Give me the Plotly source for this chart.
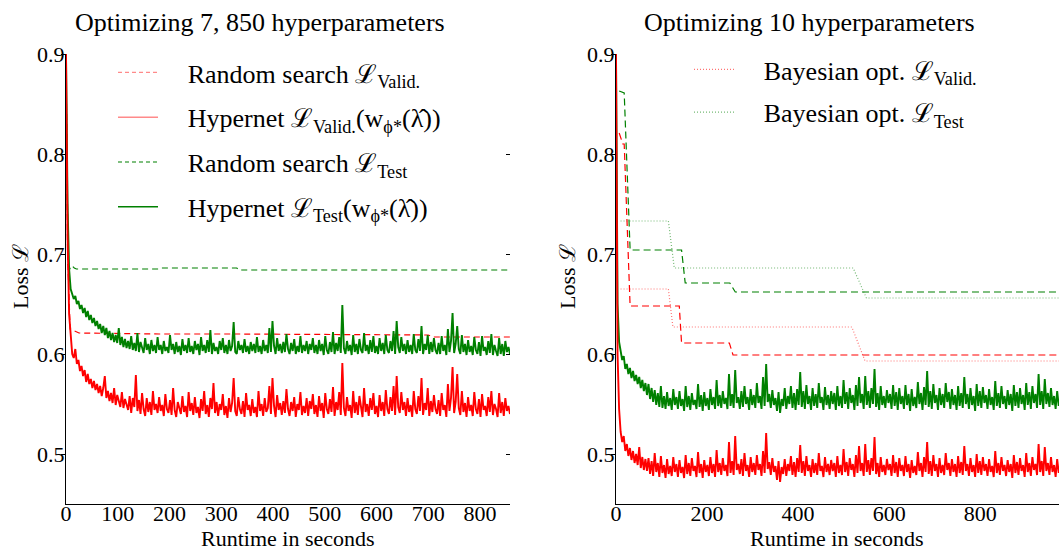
import plotly.graph_objects as go

# ---------------- data (losses in thousandths) ----------------
left_step = 3.0     # seconds between Hypernet samples (left panel)
right_step = 3.4    # seconds between Hypernet samples (right panel)

hyper_valid_left_milli = [
    900, 720, 640, 615, 600, 596, 605, 590, 594, 583, 588, 578, 584, 572, 580, 570, 575, 566, 573, 564,
    570, 561, 568, 558, 566, 578, 556, 563, 553, 561, 551, 566, 549, 559, 552, 547, 562, 546, 555, 549,
    544, 558, 541, 556, 547, 579, 543, 554, 540, 561, 545, 538, 556, 542, 552, 539, 563, 544, 550, 541,
    557, 543, 549, 538, 560, 545, 541, 554, 539, 566, 544, 537, 552, 546, 540, 558, 542, 548, 537, 562,
    543, 551, 539, 557, 541, 547, 536, 555, 543, 563, 540, 549, 537, 556, 545, 571, 541, 552, 538, 550,
    544, 560, 539, 548, 536, 556, 542, 551, 576, 543, 538, 557, 545, 540, 553, 537, 561, 544, 549, 538,
    555, 541, 547, 537, 563, 543, 550, 538, 556, 542, 546, 568, 540, 576, 548, 537, 559, 544, 551, 539,
    553, 541, 565, 545, 538, 552, 543, 557, 537, 550, 544, 562, 539, 548, 541, 556, 538, 553, 545, 560,
    540, 549, 537, 558, 543, 551, 536, 561, 545, 540, 555, 542, 567, 538, 552, 544, 562, 539, 591, 546,
    538, 557, 543, 549, 536, 563, 541, 552, 539, 558, 545, 537, 566, 542, 550, 538, 556, 544, 561, 540,
    548, 537, 559, 543, 552, 538, 564, 545, 540, 557, 543, 568, 539, 578, 547, 541, 562, 544, 552, 538,
    556, 542, 549, 537, 563, 545, 540, 558, 543, 576, 539, 551, 544, 566, 538, 553, 542, 559, 545, 540,
    554, 538, 561, 544, 549, 537, 570, 543, 556, 587, 541, 552, 580, 546, 539, 563, 542, 551, 537, 557,
    543, 549, 538, 562, 545, 540, 555, 537, 560, 544, 548, 538, 557, 542, 563, 539, 550, 545, 537, 561,
    541, 552, 538, 556, 543, 548, 540,
]
hyper_test_left_milli = [
    900, 750, 685, 665, 660, 655, 658, 650, 653, 645, 649, 641, 646, 637, 643, 634, 639, 631, 636, 628,
    633, 625, 630, 621, 628, 619, 626, 616, 623, 614, 621, 612, 619, 611, 626, 609, 617, 607, 615, 606,
    613, 605, 618, 604, 611, 603, 621, 602, 612, 607, 601, 616, 604, 610, 600, 614, 603, 609, 601, 617,
    604, 609, 600, 613, 603, 607, 601, 619, 604, 610, 600, 612, 602, 608, 599, 615, 603, 609, 601, 616,
    602, 608, 600, 613, 604, 610, 599, 617, 603, 609, 601, 614, 602, 624, 600, 611, 603, 607, 600, 613,
    604, 616, 601, 609, 600, 614, 603, 608, 632, 602, 600, 613, 604, 609, 601, 615, 602, 608, 600, 612,
    603, 610, 601, 617, 602, 608, 600, 614, 603, 609, 601, 626, 602, 633, 608, 600, 616, 603, 610, 601,
    612, 602, 620, 605, 600, 611, 603, 615, 600, 608, 602, 618, 601, 609, 603, 613, 600, 610, 604, 616,
    601, 609, 600, 614, 603, 610, 599, 618, 604, 600, 612, 602, 622, 600, 611, 603, 617, 601, 649, 606,
    600, 613, 603, 609, 599, 619, 602, 610, 600, 615, 604, 601, 621, 603, 609, 600, 614, 602, 618, 601,
    608, 600, 616, 603, 611, 600, 619, 604, 601, 613, 603, 623, 600, 633, 607, 601, 617, 603, 610, 600,
    614, 602, 609, 600, 620, 604, 601, 615, 603, 628, 600, 610, 604, 619, 600, 612, 602, 616, 604, 600,
    611, 600, 618, 603, 609, 599, 625, 602, 613, 641, 601, 610, 628, 605, 600, 619, 602, 610, 599, 614,
    602, 608, 599, 617, 604, 600, 612, 598, 618, 603, 607, 599, 613, 601, 620, 599, 609, 603, 598, 616,
    600, 610, 598, 613, 602, 607, 600,
]
hyper_valid_right_milli = [
    900, 600, 545, 522, 512, 518, 503, 510, 498, 506, 494, 503, 491, 500, 489, 507, 486, 497, 484, 495,
    483, 496, 480, 493, 478, 501, 482, 491, 477, 498, 481, 489, 476, 495, 480, 488, 478, 497, 482, 490,
    477, 494, 481, 487, 476, 499, 480, 491, 478, 496, 483, 488, 477, 502, 481, 490, 476, 494, 482, 489,
    478, 497, 481, 490, 477, 504, 482, 491, 479, 496, 483, 489, 478, 512, 481, 493, 479, 518, 484, 490,
    480, 495, 478, 501, 483, 489, 477, 497, 482, 491, 479, 499, 484, 490, 478, 503, 481, 521, 485, 492,
    479, 496, 482, 488, 474, 493, 472, 487, 480, 495, 478, 490, 483, 498, 479, 492, 477, 496, 482, 509,
    481, 493, 478, 498, 483, 489, 477, 495, 481, 491, 479, 501, 483, 488, 477, 497, 482, 490, 479, 494,
    483, 491, 477, 498, 481, 489, 479, 505, 482, 492, 478, 496, 484, 490, 477, 499, 481, 508, 483, 491,
    478, 510, 482, 494, 479, 496, 483, 517, 480, 491, 477, 497, 482, 489, 479, 495, 484, 490, 478, 499,
    481, 492, 477, 496, 483, 489, 478, 498, 482, 490, 476, 494, 481, 488, 479, 502, 483, 491, 477, 497,
    482, 512, 480, 493, 478, 499, 483, 490, 477, 496, 481, 489, 479, 501, 484, 491, 478, 495, 482, 490,
    477, 498, 481, 492, 479, 508, 483, 490, 478, 496, 482, 489, 477, 500, 481, 493, 479, 497, 483, 490,
    478, 495, 482, 488, 477, 503, 481, 491, 479, 497, 483, 489, 478, 494, 482, 490, 476, 499, 481, 492,
    479, 496, 483, 489, 477, 501, 482, 491, 478, 497, 484, 490, 479, 510, 482, 493, 478, 507, 483, 491,
    479, 497, 482, 489, 477, 495, 481,
]
hyper_test_right_milli = [
    900, 650, 612, 601, 594, 598, 585, 590, 580, 586, 576, 583, 573, 579, 570, 577, 566, 574, 563, 571,
    559, 570, 555, 566, 552, 564, 549, 561, 547, 568, 546, 558, 545, 562, 548, 556, 544, 565, 549, 557,
    545, 563, 548, 555, 543, 568, 547, 558, 544, 561, 549, 554, 545, 570, 547, 559, 543, 562, 548, 556,
    544, 565, 549, 557, 545, 574, 548, 559, 546, 563, 550, 556, 545, 580, 548, 560, 546, 584, 551, 557,
    545, 563, 547, 568, 550, 557, 544, 565, 549, 559, 546, 571, 551, 558, 545, 577, 548, 590, 552, 560,
    546, 564, 549, 556, 543, 562, 541, 555, 548, 566, 545, 558, 550, 568, 546, 561, 544, 565, 549, 582,
    547, 563, 545, 569, 550, 558, 544, 566, 548, 560, 546, 571, 551, 557, 544, 567, 549, 559, 545, 563,
    550, 561, 544, 568, 548, 558, 546, 574, 550, 562, 545, 566, 551, 559, 544, 569, 548, 577, 551, 560,
    545, 578, 549, 563, 546, 566, 550, 585, 547, 561, 544, 568, 549, 558, 546, 564, 551, 560, 545, 569,
    548, 562, 544, 566, 550, 558, 545, 569, 549, 560, 543, 565, 548, 557, 546, 572, 550, 561, 544, 567,
    549, 583, 547, 563, 545, 570, 551, 559, 544, 566, 549, 560, 546, 571, 552, 562, 545, 565, 549, 559,
    544, 568, 548, 561, 546, 577, 550, 560, 545, 566, 549, 558, 543, 570, 548, 563, 546, 567, 551, 559,
    545, 565, 549, 557, 544, 573, 548, 561, 546, 568, 550, 558, 545, 564, 549, 560, 543, 569, 548, 562,
    546, 566, 550, 559, 544, 571, 549, 562, 545, 568, 551, 560, 546, 580, 549, 563, 545, 575, 550, 561,
    547, 566, 549, 558, 545, 563, 548,
]

# Random search (left) - incumbent curves
rs_valid_left_t = [0, 3, 8, 25, 180, 330, 700, 710, 858]
rs_valid_left = [0.900, 0.700, 0.625, 0.621, 0.620, 0.620, 0.619, 0.617, 0.617]
rs_test_left_t = [0, 4, 8, 12, 16, 20, 180, 185, 330, 335, 858]
rs_test_left = [0.900, 0.690, 0.685, 0.688, 0.686, 0.685, 0.685, 0.686, 0.686, 0.684, 0.684]

# Random search (right)
rs_valid_right_t = [7, 15, 18, 31, 139, 144, 249, 257, 973]
rs_valid_right = [0.821, 0.810, 0.810, 0.648, 0.648, 0.611, 0.611, 0.599, 0.599]
rs_test_right_t = [7, 18, 31, 144, 152, 250, 262, 973]
rs_test_right = [0.863, 0.861, 0.704, 0.704, 0.671, 0.671, 0.662, 0.662]

# Bayesian optimisation (right)
bo_valid_t = [10, 115, 125, 518, 547, 973]
bo_valid = [0.665, 0.665, 0.627, 0.627, 0.593, 0.593]
bo_test_t = [10, 115, 128, 521, 550, 973]
bo_test = [0.733, 0.733, 0.686, 0.686, 0.656, 0.656]

x_ticks_left = [0, 100, 200, 300, 400, 500, 600, 700, 800]
x_ticks_right = [0, 200, 400, 600, 800]
y_ticks = [0.5, 0.6, 0.7, 0.8, 0.9]

titles = ["Optimizing 7, 850 hyperparameters", "Optimizing 10 hyperparameters"]
x_title = "Runtime in seconds"
y_title = "Loss ℒ"

# ---------------- figure ----------------
W, H = 1059, 550
FONT = "Liberation Serif, serif"
RED, GREEN = "#ff0000", "#008000"
RED_L, GREEN_L = "rgba(255,0,0,0.55)", "rgba(0,128,0,0.55)"
PAD = "\u00a0\u00a0\u00a0\u2009"


def series(milli, step):
    return [i * step for i in range(len(milli))], [v / 1000.0 for v in milli]


fig = go.Figure()

# ----- left panel -----
fig.add_trace(go.Scatter(x=rs_valid_left_t, y=rs_valid_left, mode="lines", showlegend=False,
                         line=dict(color=RED, width=1.2, dash="6px,4px"), xaxis="x", yaxis="y"))
fig.add_trace(go.Scatter(x=rs_test_left_t, y=rs_test_left, mode="lines", showlegend=False,
                         line=dict(color=GREEN, width=1.2, dash="6px,4px"), xaxis="x", yaxis="y"))
tx, vy = series(hyper_test_left_milli, left_step)
fig.add_trace(go.Scatter(x=tx, y=vy, mode="lines", showlegend=False,
                         line=dict(color=GREEN, width=1.9), xaxis="x", yaxis="y"))
tx, vy = series(hyper_valid_left_milli, left_step)
fig.add_trace(go.Scatter(x=tx, y=vy, mode="lines", showlegend=False,
                         line=dict(color=RED, width=1.9), xaxis="x", yaxis="y"))

# ----- right panel -----
fig.add_trace(go.Scatter(x=bo_test_t, y=bo_test, mode="lines", showlegend=False,
                         line=dict(color=GREEN_L, width=1.2, dash="1px,2px"), xaxis="x2", yaxis="y2"))
fig.add_trace(go.Scatter(x=bo_valid_t, y=bo_valid, mode="lines", showlegend=False,
                         line=dict(color=RED_L, width=1.2, dash="1px,2px"), xaxis="x2", yaxis="y2"))
fig.add_trace(go.Scatter(x=rs_test_right_t, y=rs_test_right, mode="lines", showlegend=False,
                         line=dict(color=GREEN, width=1.2, dash="7px,4px"), xaxis="x2", yaxis="y2"))
fig.add_trace(go.Scatter(x=rs_valid_right_t, y=rs_valid_right, mode="lines", showlegend=False,
                         line=dict(color=RED, width=1.2, dash="7px,4px"), xaxis="x2", yaxis="y2"))
tx, vy = series(hyper_test_right_milli, right_step)
fig.add_trace(go.Scatter(x=tx, y=vy, mode="lines", showlegend=False,
                         line=dict(color=GREEN, width=1.9), xaxis="x2", yaxis="y2"))
tx, vy = series(hyper_valid_right_milli, right_step)
fig.add_trace(go.Scatter(x=tx, y=vy, mode="lines", showlegend=False,
                         line=dict(color=RED, width=1.9), xaxis="x2", yaxis="y2"))

# ----- legend entries -----
leg_left = [
    ("Random search ℒ<sub>Valid.</sub>", dict(color="rgba(255,60,60,0.6)", width=1.3, dash="4px,3px")),
    ("Hypernet ℒ<sub>Valid.</sub>(w<sub>ϕ*</sub>(λ̂))", dict(color="rgba(255,60,60,0.6)", width=1.6)),
    ("Random search ℒ<sub>Test</sub>", dict(color=GREEN, width=1.2, dash="4px,3px")),
    ("Hypernet ℒ<sub>Test</sub>(w<sub>ϕ*</sub>(λ̂))", dict(color=GREEN, width=1.4)),
]
for i, (name, ln) in enumerate(leg_left):
    fig.add_trace(go.Scatter(x=[None], y=[None], mode="lines", name=PAD + name, line=ln,
                             legendgroup=f"l{i}", legend="legend", xaxis="x", yaxis="y"))
leg_right = [
    ("Bayesian opt. ℒ<sub>Valid.</sub>", dict(color=RED_L, width=1.2, dash="1px,2px")),
    ("Bayesian opt. ℒ<sub>Test</sub>", dict(color=GREEN_L, width=1.2, dash="1px,2px")),
]
for i, (name, ln) in enumerate(leg_right):
    fig.add_trace(go.Scatter(x=[None], y=[None], mode="lines", name=PAD + name, line=ln,
                             legendgroup=f"r{i}", legend="legend2", xaxis="x2", yaxis="y2"))

# invisible trace on mirrored tick axis
fig.add_trace(go.Scatter(x=[None], y=[None], showlegend=False, xaxis="x", yaxis="y3"))

ydom = [1 - 504 / H, 1 - 54 / H]
axis_font = dict(family=FONT, size=22, color="black")
common_x = dict(showline=True, linecolor="black", linewidth=1.3, ticks="", ticklen=0, showgrid=False,
                zeroline=False, tickfont=axis_font, automargin=False, ticklabelstandoff=-11)
common_y = dict(showline=True, linecolor="black", linewidth=1.3, ticks="outside", ticklen=4,
                tickcolor="black", showgrid=False, zeroline=False, tickfont=axis_font,
                range=[0.45, 0.9], tickvals=y_ticks, ticktext=[f"{v:.1f}" for v in y_ticks],
                domain=ydom, automargin=False, ticklabelstandoff=-8)

fig.update_layout(
    template="none",
    width=W, height=H,
    margin=dict(l=0, r=0, t=0, b=0, pad=0),
    paper_bgcolor="white", plot_bgcolor="white",
    font=dict(family=FONT, color="black"),
    xaxis=dict(domain=[66 / W, 510 / W], range=[0, 858], tickvals=x_ticks_left, anchor="y", **common_x),
    yaxis=dict(anchor="x", **common_y),
    yaxis3=dict(overlaying="y", side="right", anchor="x", range=[0.45, 0.9], tickvals=y_ticks,
                showticklabels=False, ticks="inside", ticklen=4, tickcolor="black",
                showline=False, showgrid=False, zeroline=False, automargin=False),
    xaxis2=dict(domain=[616 / W, 1.0], range=[0, 973], tickvals=x_ticks_right, anchor="y2", **common_x),
    yaxis2=dict(anchor="x2", **common_y),
    legend=dict(x=113 / W, y=1 - 49 / H, xanchor="left", yanchor="top", bgcolor="rgba(0,0,0,0)",
                borderwidth=0, font=dict(family=FONT, size=26, color="black"), tracegroupgap=8,
                traceorder="grouped", itemwidth=40),
    legend2=dict(x=689 / W, y=1 - 46 / H, xanchor="left", yanchor="top", bgcolor="rgba(0,0,0,0)",
                 borderwidth=0, font=dict(family=FONT, size=26, color="black"), tracegroupgap=6,
                 traceorder="grouped", itemwidth=40),
    showlegend=True,
)

ann = []
for cx, t in [(260, titles[0]), (809, titles[1])]:
    ann.append(dict(text=t, x=cx / W, y=1 - 22 / H, xref="paper", yref="paper",
                    xanchor="center", yanchor="middle", showarrow=False,
                    font=dict(family=FONT, size=26, color="black")))
for cx in [288, 837]:
    ann.append(dict(text=x_title, x=cx / W, y=1 - 538 / H, xref="paper", yref="paper",
                    xanchor="center", yanchor="middle", showarrow=False,
                    font=dict(family=FONT, size=22, color="black")))
for cx in [20, 567]:
    ann.append(dict(text=y_title, x=cx / W, y=1 - 277 / H, xref="paper", yref="paper",
                    xanchor="center", yanchor="middle", showarrow=False, textangle=-90,
                    font=dict(family=FONT, size=22, color="black")))
fig.update_layout(annotations=ann)

fig.write_html("out.html", config={"displayModeBar": False},
               post_script="document.body.style.margin='0px';")
